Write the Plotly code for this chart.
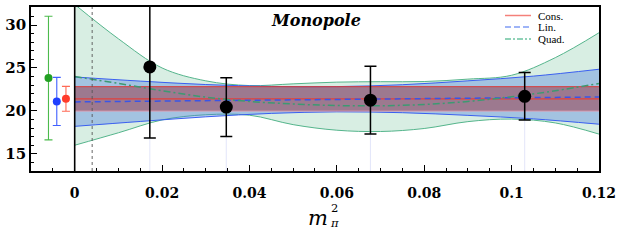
import plotly.graph_objects as go

# ---------------- data ----------------
mpi2 = [0.0172, 0.0347, 0.0677, 0.1030]
val = [25.12, 20.45, 21.25, 21.70]
err = [8.28, 3.42, 3.95, 2.76]

# extrapolated values shown left of zero
ext_x = [-0.0060, -0.0041, -0.0020]
ext_y = [23.83, 21.10, 21.40]
ext_err = [7.2, 2.8, 1.45]
ext_col = ["#22a022", "#1f3fff", "#ff3b2b"]
ext_errcol = ["#4cbb4c", "#4060ff", "#ff6a55"]

phys_mpi2 = 0.004

# constant fit
cons_x = [0.0, 0.12]
cons_c = [21.40, 21.40]
cons_lo = [19.98, 19.98]
cons_hi = [22.82, 22.82]

# linear fit
lin_x = [0.0, 0.015, 0.03, 0.045, 0.06, 0.075, 0.09, 0.105, 0.12]
lin_c = [21.05, 21.12, 21.19, 21.26, 21.34, 21.41, 21.48, 21.55, 21.62]
lin_hi = [23.95, 23.47, 23.07, 22.85, 22.83, 23.05, 23.50, 24.05, 24.85]
lin_lo = [18.20, 18.77, 19.31, 19.71, 19.89, 19.79, 19.48, 19.07, 18.45]

# quadratic fit
quad_x = [0.0, 0.01, 0.02, 0.03, 0.04, 0.05, 0.06, 0.07, 0.08, 0.09, 0.1, 0.11, 0.12]
quad_c = [24.0, 23.2, 22.35, 21.6, 21.1, 20.8, 20.62, 20.6, 20.75, 21.1, 21.65, 22.35, 23.2]
quad_hi = [32.4, 28.4, 25.0, 23.5, 22.95, 23.15, 23.35, 23.4, 23.42, 23.7, 24.15, 26.2, 29.1]
quad_lo = [16.0, 17.45, 18.95, 19.55, 19.5, 18.4, 17.75, 17.6, 17.95, 18.75, 19.05, 18.6, 17.3]

yr = [13.0, 32.1]
xr = [-0.01, 0.12001]

fig = go.Figure()


def band(x, lo, hi, fill, edge_hi, edge_lo, w=1.0):
    fig.add_trace(go.Scatter(x=x, y=lo, mode="lines", line=dict(color=edge_lo, width=w, shape="spline"),
                             showlegend=False, hoverinfo="skip"))
    fig.add_trace(go.Scatter(x=x, y=hi, mode="lines", line=dict(color=edge_hi, width=w, shape="spline"),
                             fill="tonexty", fillcolor=fill, showlegend=False, hoverinfo="skip"))


band(quad_x, quad_lo, quad_hi, "rgba(60,170,115,0.2)", "#55b58c", "#55b58c")
band(lin_x, lin_lo, lin_hi, "rgba(70,118,223,0.36)", "#3a5ff0", "#3a5ff0")
band(cons_x, cons_lo, cons_hi, "rgba(150,30,45,0.45)", "#d83a3a", "rgba(225,150,170,0.9)")

fig.add_trace(go.Scatter(x=cons_x, y=cons_c, mode="lines", line=dict(color="#e0403c", width=1.3),
                         showlegend=False, hoverinfo="skip"))
fig.add_trace(go.Scatter(x=lin_x, y=lin_c, mode="lines", line=dict(color="#3a55e8", width=1.5, dash="6px,4px"),
                         showlegend=False, hoverinfo="skip"))
fig.add_trace(go.Scatter(x=quad_x, y=quad_c, mode="lines",
                         line=dict(color="#3c9a72", width=1.5, dash="7px,3px,2px,3px", shape="spline"),
                         showlegend=False, hoverinfo="skip"))

# faint guide lines under data points
for xi, yi, ei in zip(mpi2, val, err):
    fig.add_trace(go.Scatter(x=[xi, xi], y=[yr[0], yi - ei], mode="lines",
                             line=dict(color="rgba(200,205,245,0.5)", width=1),
                             showlegend=False, hoverinfo="skip"))

# data points
fig.add_trace(go.Scatter(x=mpi2, y=val, mode="markers",
                         marker=dict(color="black", size=13),
                         error_y=dict(type="data", array=err, color="black", thickness=1.5, width=6),
                         showlegend=False))

# extrapolated points
for xi, yi, ei, c, ec in zip(ext_x, ext_y, ext_err, ext_col, ext_errcol):
    fig.add_trace(go.Scatter(x=[xi], y=[yi], mode="markers",
                             marker=dict(color=c, size=8),
                             error_y=dict(type="data", array=[ei], color=ec, thickness=1.1, width=4),
                             showlegend=False))

# vertical reference lines
fig.add_shape(type="line", xref="x", yref="paper", x0=0, x1=0, y0=0, y1=1,
              line=dict(color="black", width=1.6))
fig.add_shape(type="line", xref="x", yref="paper", x0=phys_mpi2, x1=phys_mpi2, y0=0, y1=1,
              line=dict(color="#555555", width=0.9, dash="dot"))

# manual legend
L, W, T, H = 31, 568, 7, 164


def px2paper(px, py):
    return (px - L) / W, (T + H - py) / H


leg = [("Cons.", "#f4807a", "solid", 15.5),
       ("Lin.", "#7f9cf5", "6px,3px", 27),
       ("Quad.", "#6cc4a0", "6px,2px,2px,2px", 39)]
for name, col, dash, py in leg:
    xa, ya = px2paper(505, py)
    xb, _ = px2paper(531, py)
    fig.add_shape(type="line", xref="paper", yref="paper", x0=xa, x1=xb, y0=ya, y1=ya,
                  line=dict(color=col, width=1.5, dash=dash))
    xt, _ = px2paper(536, py)
    fig.add_annotation(xref="paper", yref="paper", x=xt, y=ya, text=name, showarrow=False,
                       xanchor="left", yanchor="middle",
                       font=dict(family="Liberation Serif", size=11, color="black"))

# title
tx, ty = px2paper(316, 21)
fig.add_annotation(xref="paper", yref="paper", x=tx, y=ty, text="<b><i>Monopole</i></b>", showarrow=False,
                   xanchor="center", yanchor="middle",
                   font=dict(family="DejaVu Serif", size=16, color="black"))

# x axis label  m_pi^2
mx, my = px2paper(318, 218)
fig.add_annotation(xref="paper", yref="paper", x=mx, y=my, text="<i>m</i>", showarrow=False,
                   xanchor="center", yanchor="middle",
                   font=dict(family="DejaVu Serif", size=21, color="black"))
sx, sy = px2paper(334, 215)
fig.add_annotation(xref="paper", yref="paper", x=sx, y=sy, text="2<br><i>π</i>", showarrow=False,
                   xanchor="center", yanchor="middle", align="center",
                   font=dict(family="DejaVu Serif", size=11.5, color="black"))

tickfont = dict(family="DejaVu Serif", size=14, color="black", weight="bold")
fig.update_layout(
    width=623, height=249,
    margin=dict(l=L, r=623 - L - W, t=T, b=249 - T - H, autoexpand=False),
    plot_bgcolor="white", paper_bgcolor="white",
    showlegend=False,
    xaxis=dict(range=xr, tick0=0, dtick=0.02, ticks="inside", ticklen=6, tickwidth=1.2,
               tickcolor="black", showgrid=False, zeroline=False, automargin=False,
               showline=True, linecolor="black", linewidth=1.6, mirror=True,
               tickfont=tickfont, ticklabelstandoff=8,
               minor=dict(dtick=0.005, ticks="inside", ticklen=3, tickcolor="black", tickwidth=1, showgrid=False)),
    yaxis=dict(range=yr, tick0=0, dtick=5, ticks="inside", ticklen=6, tickwidth=1.2,
               tickcolor="black", showgrid=False, zeroline=False, automargin=False,
               showline=True, linecolor="black", linewidth=1.6, mirror=True,
               tickfont=dict(family="DejaVu Serif", size=15, color="black", weight="bold"),
               minor=dict(dtick=1, ticks="inside", ticklen=3, tickcolor="black", tickwidth=1, showgrid=False)),
)

fig.write_html("out.html", config={"displayModeBar": False},
               post_script="document.body.style.margin='0px';document.body.style.overflow='hidden';")
